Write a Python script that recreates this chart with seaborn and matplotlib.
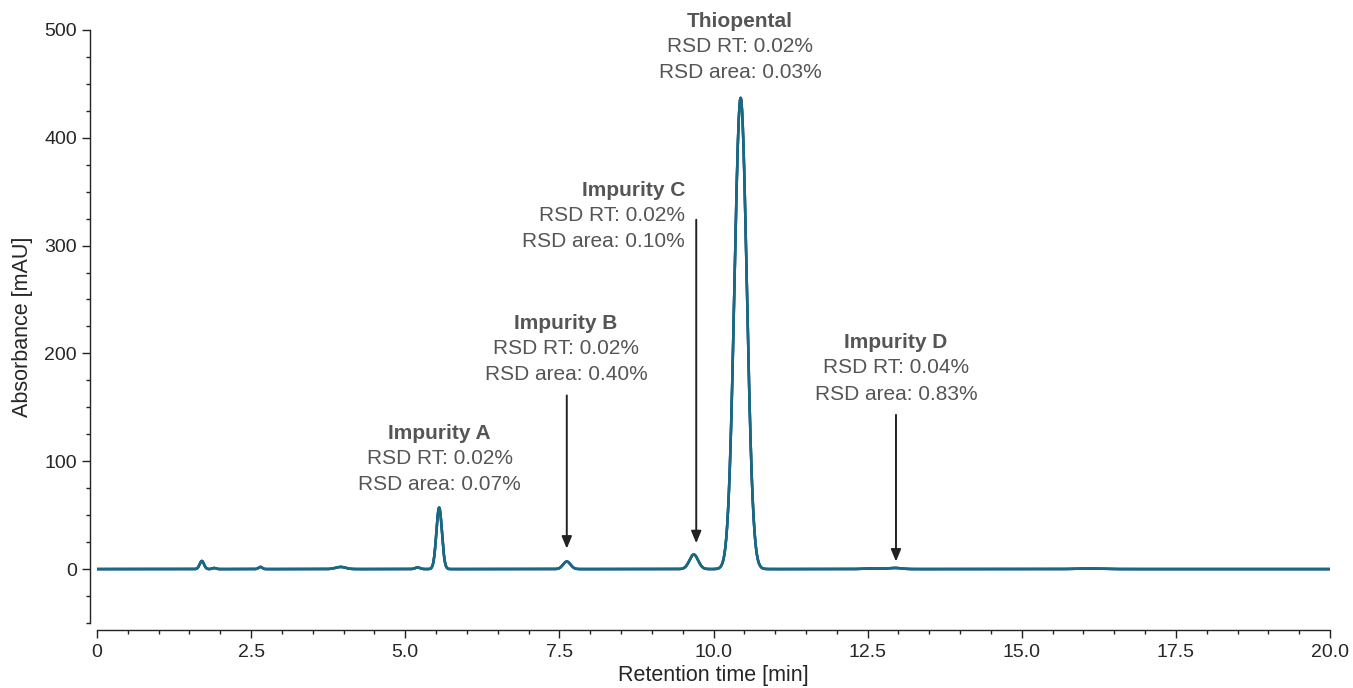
"""HPLC chromatogram of thiopental with impurity peaks."""

import matplotlib
matplotlib.use("Agg")
import matplotlib.pyplot as plt
from matplotlib.ticker import MultipleLocator
import numpy as np
import pandas as pd
import seaborn as sns

# peak table: retention time [min], height [mAU], sigma [min]
peak_rt = [1.70, 1.90, 2.65, 3.95, 5.20, 5.55, 7.62, 9.68, 10.44, 12.60, 12.95, 16.10]
peak_height = [7.5, 1.0, 2.0, 2.0, 1.5, 57.0, 7.0, 13.5, 437.0, 0.6, 1.0, 0.5]
peak_sigma = [0.035, 0.030, 0.030, 0.080, 0.040, 0.045, 0.060, 0.070, 0.100, 0.150, 0.100, 0.200]

# annotation labels
labels = ["Impurity A", "Impurity B", "Impurity C", "Thiopental", "Impurity D"]
rsd_rt = ["0.02%", "0.02%", "0.02%", "0.02%", "0.04%"]
rsd_area = ["0.07%", "0.40%", "0.10%", "0.03%", "0.83%"]
label_x = [5.56, 7.61, 9.54, 10.43, 12.96]
label_y = [126, 228, 351, 508, 210]
label_ha = ["center", "center", "right", "center", "center"]

# arrows for the small peaks: x, tail y, head y
arrow_x = [7.62, 9.72, 12.96]
arrow_tail = [161, 324, 143]
arrow_head = [19, 24, 7]

trace_colors = ["#3a4f93", "#1d5f8a", "#176a82"]

time = np.linspace(0, 20, 4001)
signal = np.zeros_like(time)
for rt, h, s in zip(peak_rt, peak_height, peak_sigma):
    signal += h * np.exp(-0.5 * ((time - rt) / s) ** 2)

frames = []
for i, c in enumerate(trace_colors):
    frames.append(pd.DataFrame({"time": time, "abs": signal, "run": f"run{i}"}))
data = pd.concat(frames, ignore_index=True)

sns.set_theme(style="ticks")
plt.rcParams["font.family"] = ["Liberation Sans", "DejaVu Sans"]

fig = plt.figure(figsize=(13.53, 6.88), dpi=100)
ax = fig.add_axes([0.0717, 0.0945, 0.9113, 0.862])

sns.lineplot(data=data, x="time", y="abs", hue="run", palette=trace_colors,
             linewidth=1.8, legend=False, ax=ax, estimator=None)

ax.set_xlim(0, 20)
ax.set_ylim(-50, 500)
ax.set_xticks([0, 2.5, 5, 7.5, 10, 12.5, 15, 17.5, 20])
ax.set_xticklabels(["0", "2.5", "5.0", "7.5", "10.0", "12.5", "15.0", "17.5", "20.0"])
ax.xaxis.set_minor_locator(MultipleLocator(0.5))
ax.set_yticks([0, 100, 200, 300, 400, 500])
ax.yaxis.set_minor_locator(MultipleLocator(25))
ax.tick_params(axis="both", which="major", labelsize=14, length=6, width=1, color="#222222")
ax.tick_params(axis="x", which="major", pad=4)
ax.tick_params(axis="both", which="minor", length=3, width=1, color="#222222")

for side in ["top", "right"]:
    ax.spines[side].set_visible(False)
ax.spines["left"].set_position(("outward", 5))
ax.spines["bottom"].set_position(("outward", 5))
ax.spines["left"].set_bounds(-50, 500)
ax.spines["bottom"].set_bounds(0, 20)
for side in ["left", "bottom"]:
    ax.spines[side].set_color("#222222")
    ax.spines[side].set_linewidth(1)

ax.set_xlabel("Retention time [min]", fontsize=15.5, labelpad=3)
ax.set_ylabel("Absorbance [mAU]", fontsize=15.5, labelpad=8)

text_color = "#555555"
for name, rt_txt, area_txt, x, y, ha in zip(labels, rsd_rt, rsd_area, label_x, label_y, label_ha):
    ax.annotate(name, (x, y), ha=ha, va="center", fontsize=15, fontweight="bold",
                color=text_color, annotation_clip=False)
    ax.annotate(f"RSD RT: {rt_txt}", (x, y), xytext=(0, -18), textcoords="offset points",
                ha=ha, va="center", fontsize=15, color=text_color, annotation_clip=False)
    ax.annotate(f"RSD area: {area_txt}", (x, y), xytext=(0, -37), textcoords="offset points",
                ha=ha, va="center", fontsize=15, color=text_color, annotation_clip=False)

for x, y0, y1 in zip(arrow_x, arrow_tail, arrow_head):
    ax.annotate("", xy=(x, y1), xytext=(x, y0),
                arrowprops=dict(arrowstyle="-|>,head_length=0.6,head_width=0.25",
                                color="#222222", lw=1.4, shrinkA=0, shrinkB=0))

fig.savefig("out.png", dpi=100)
plt.close(fig)
